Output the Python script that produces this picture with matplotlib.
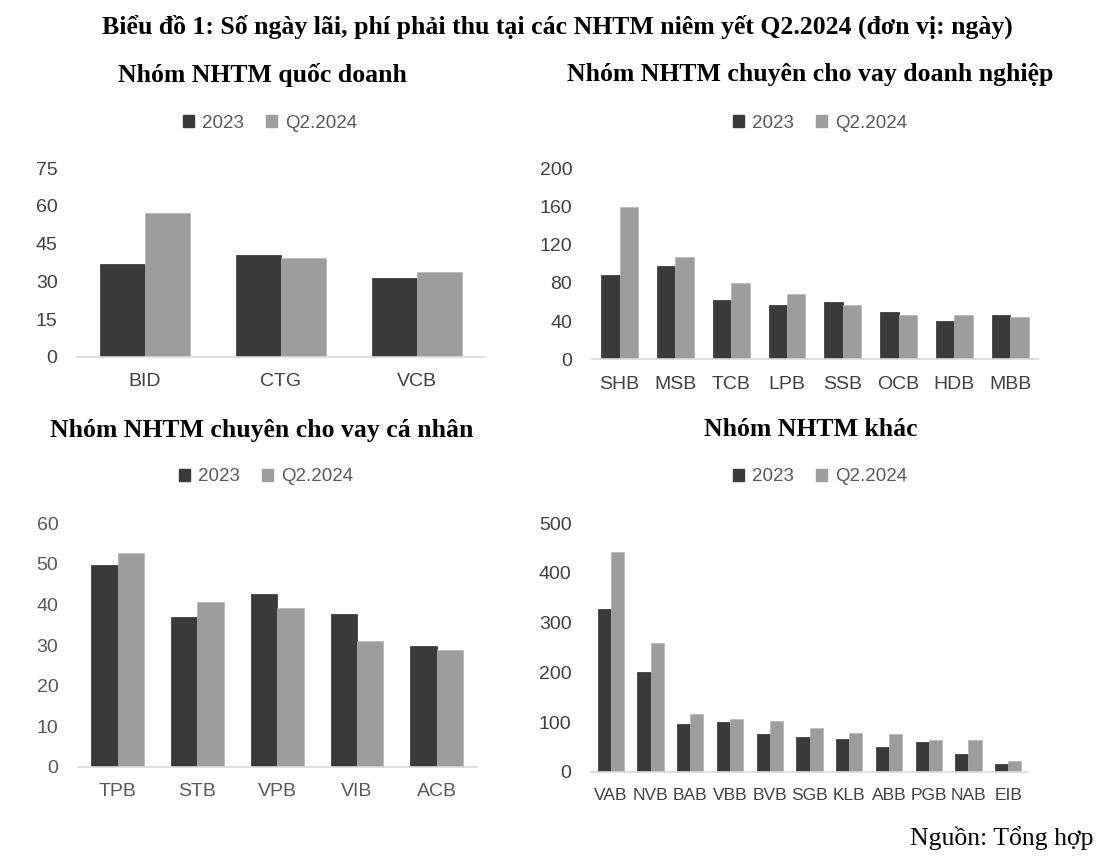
import matplotlib
matplotlib.use("Agg")
import matplotlib.pyplot as plt
from matplotlib.patches import Patch
import numpy as np

# du lieu doc tu bieu do
banks_qd = ["BID", "CTG", "VCB"]
qd_2023 = [37, 40.5, 31.2]
qd_q2 = [57.3, 39.3, 33.6]

banks_dn = ["SHB", "MSB", "TCB", "LPB", "SSB", "OCB", "HDB", "MBB"]
dn_2023 = [88, 98, 62, 57, 60, 50, 40.5, 46]
dn_q2 = [160, 107.5, 80, 68.5, 57, 46, 46, 44]

banks_cn = ["TPB", "STB", "VPB", "VIB", "ACB"]
cn_2023 = [49.6, 36.8, 42.6, 37.6, 29.8]
cn_q2 = [52.6, 40.7, 39.1, 31, 28.7]

banks_k = ["VAB", "NVB", "BAB", "VBB", "BVB", "SGB", "KLB", "ABB", "PGB", "NAB", "EIB"]
k_2023 = [327, 201, 97, 101, 75, 69, 66, 50, 59, 35, 16]
k_q2 = [443, 260, 116, 107, 103, 88, 78, 75, 63, 63, 22]

series_names = ["2023", "Q2.2024"]
c_dark = "#3a3a3a"
c_light = "#9d9d9d"

W, H = 1110, 859
fig = plt.figure(figsize=(W / 100, H / 100), dpi=100)

serif = ["Liberation Serif", "DejaVu Serif"]
sans = ["Liberation Sans", "DejaVu Sans"]


def px_axes(l, r, b, t):
    return fig.add_axes([l / W, 1 - b / H, (r - l) / W, (b - t) / H])


def draw_panel(rect, cats, v1, v2, ymax, ystep, title, tpos, lpos, tickcol, xsize=14):
    ax = px_axes(*rect)
    x = np.arange(len(cats))
    w = 0.33
    ax.bar(x - w / 2, v1, w, color=c_dark, edgecolor="#2e2e2e", linewidth=0.5)
    ax.bar(x + w / 2, v2, w, color=c_light, edgecolor="#b5b5b5", linewidth=0.5)
    ax.set_xlim(-0.5, len(cats) - 0.5)
    ax.set_ylim(0, ymax)
    ax.set_yticks(np.arange(0, ymax + 1, ystep))
    ax.set_xticks(x)
    ax.set_xticklabels(cats)
    for s in ["top", "right", "left"]:
        ax.spines[s].set_visible(False)
    ax.spines["bottom"].set_color("#d9d9d9")
    ax.spines["bottom"].set_linewidth(1.2)
    ax.tick_params(axis="both", length=0, labelsize=14, labelcolor=tickcol)
    ax.tick_params(axis="y", pad=14)
    ax.tick_params(axis="x", pad=12, labelsize=xsize)
    for lab in ax.get_xticklabels() + ax.get_yticklabels():
        lab.set_family(sans)
    fig.text(tpos[0] / W, 1 - tpos[1] / H, title, ha="center", va="center",
             fontsize=18.5, fontweight="bold", family=serif)
    handles = [Patch(color=c_dark), Patch(color=c_light)]
    fig.legend(handles, series_names, loc="center",
               bbox_to_anchor=(lpos[0] / W, 1 - lpos[1] / H), ncol=2,
               frameon=False, handlelength=0.6, handleheight=0.6,
               handletextpad=0.4, columnspacing=1.2,
               prop={"family": sans, "size": 13.5}, labelcolor="#595959")
    return ax


draw_panel((77, 485, 356.7, 168.3), banks_qd, qd_2023, qd_q2, 75, 15,
           "Nhóm NHTM quốc doanh", (262, 75), (270, 123), "#404040")
draw_panel((591.7, 1038, 359.3, 168.3), banks_dn, dn_2023, dn_q2, 200, 40,
           "Nhóm NHTM chuyên cho vay doanh nghiệp", (810, 75), (820, 123), "#404040")
draw_panel((77.7, 476.7, 766.7, 523.3), banks_cn, cn_2023, cn_q2, 60, 10,
           "Nhóm NHTM chuyên cho vay cá nhân", (262, 430), (266, 477), "#595959")
draw_panel((591, 1028, 771.7, 523.3), banks_k, k_2023, k_q2, 500, 100,
           "Nhóm NHTM khác", (811, 430), (820, 477), "#404040", xsize=12.5)

fig.text(557 / W, 1 - 27 / H,
         "Biểu đồ 1: Số ngày lãi, phí phải thu tại các NHTM niêm yết Q2.2024 (đơn vị: ngày)",
         ha="center", va="center", fontsize=18.5, fontweight="bold", family=serif)
fig.text(1093 / W, 1 - 838 / H, "Nguồn: Tổng hợp", ha="right", va="center",
         fontsize=18.5, family=serif)

fig.savefig("out.png", dpi=100)
